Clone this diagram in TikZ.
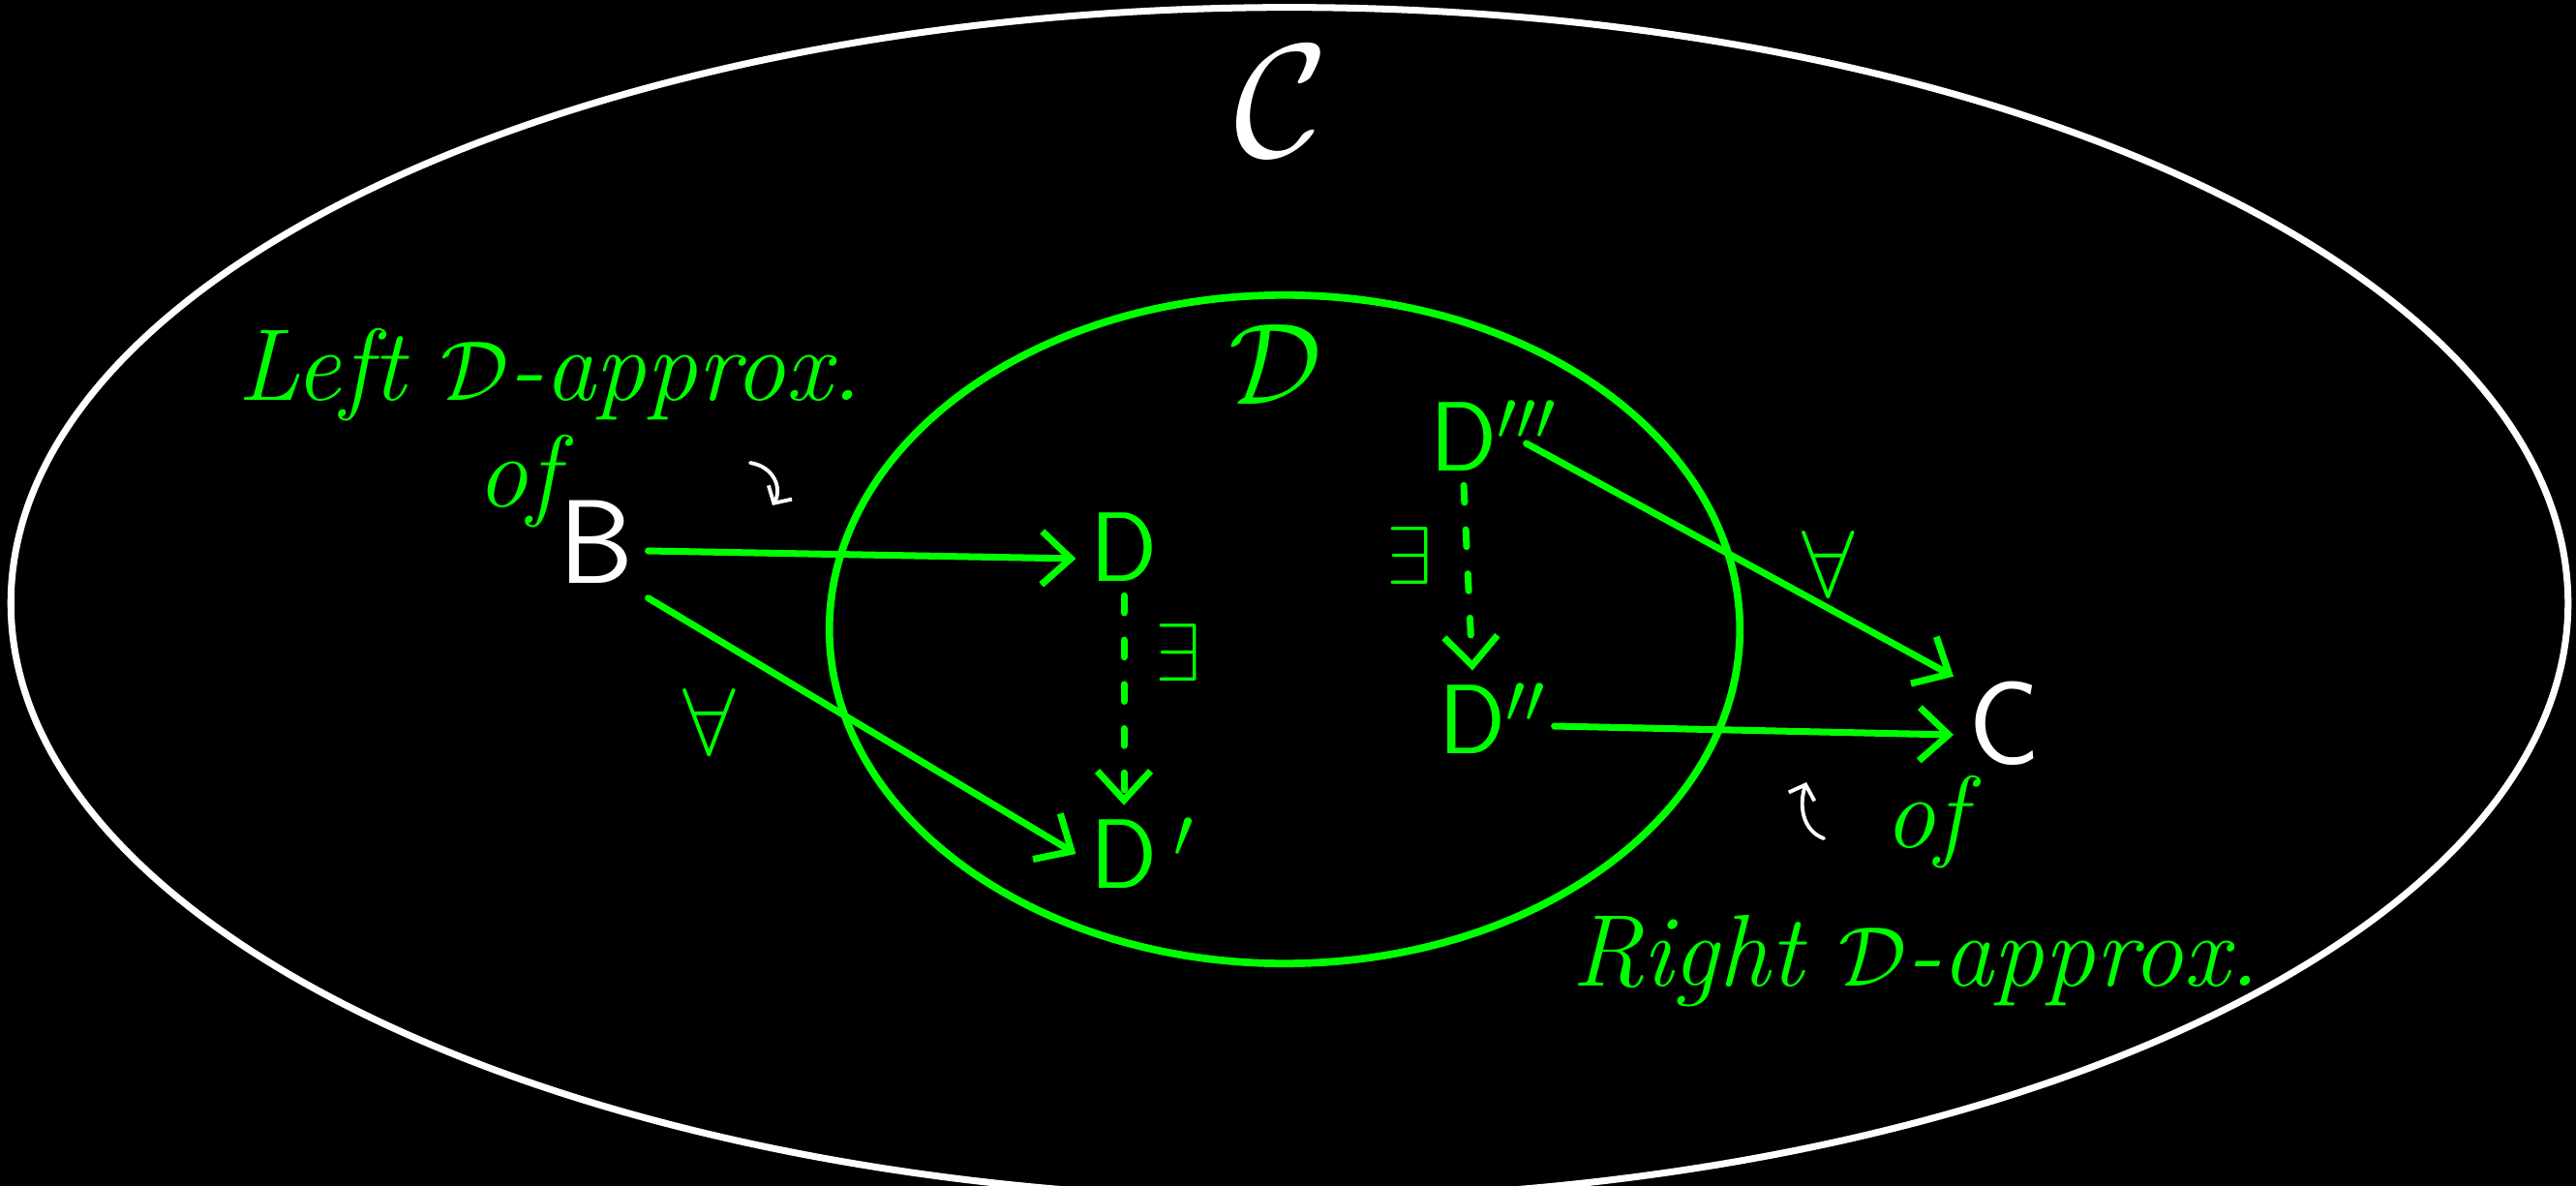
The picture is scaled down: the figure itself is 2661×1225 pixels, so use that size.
\documentclass[tikz,border=0pt]{standalone}
\usepackage{fontspec}
\usetikzlibrary{arrows.meta}
\definecolor{chalkgreen}{RGB}{0,255,0}
\begin{document}
\begin{tikzpicture}[x=0.01cm,y=-0.01cm,
  every node/.style={inner sep=0pt},
  phrase/.style={text=chalkgreen, font=\fontsize{30}{36}\selectfont\itshape},
  letterg/.style={text=chalkgreen, font=\fontsize{29}{34}\selectfont\sffamily, outer sep=0.15cm},
  letterw/.style={text=white, font=\fontsize{35}{40}\selectfont\sffamily, outer sep=0.15cm},
  forall/.style={text=chalkgreen, font=\Huge, scale=1.12},
  exist/.style={text=chalkgreen, font=\Huge, scale=0.97},
  conn/.style={draw=chalkgreen, line width=2pt, line cap=round,
    -{Straight Barb[length=0.3cm,width=0.55cm,line width=2pt]}},
  exists/.style={conn, dash pattern=on 5pt off 8pt},
  hint/.style={draw=white, line width=1.1pt, line cap=round,
    -{Straight Barb[length=0.13cm,width=0.28cm,line width=1.1pt]}}
]
\fill[black] (0,0) rectangle (2661,1225);
\clip (0,0) rectangle (2661,1225);
% ellipses
\draw[white, line width=2pt] (1332,623) ellipse [x radius=13.2cm, y radius=6.15cm];
\draw[chalkgreen, line width=2.2pt] (1327,650) ellipse [x radius=4.7cm, y radius=3.45cm];
% titles
\node[text=white, font=\Huge, scale=1.9] (calC) at (1324,105) {$\mathcal{C}$};
\node[text=chalkgreen, font=\Huge, scale=1.37] (calD) at (1317,377) {$\mathcal{D}$};
% objects
\node[letterw] (B) at (616,560) {B};
\node[letterw] (C) at (2070,747) {C};
\node[letterg] (D) at (1161,565) {D};
\node[letterg] (D1) at (1161,882) {D\rlap{\smash{\,$'$}}};
\node[letterg] (D3) at (1512,451) {D\rlap{\smash{$'''$}}};
\node[letterg] (D2) at (1521,743) {D\rlap{\smash{$''$}}};
% quantifiers
\node[forall] (allL) at (733,745) {$\forall$};
\node[forall] (allR) at (1889,582) {$\forall$};
\node[exist] (exL) at (1217,674) {$\exists$};
\node[exist] (exR) at (1456,574) {$\exists$};
% phrases
\node[phrase] (leftap) at (568,387) {Left $\mathcal{D}$-approx.};
\node[phrase] (ofL) at (535,497) {of};
\node[phrase] (rightap) at (1979,993) {Right $\mathcal{D}$-approx.};
\node[phrase] (ofR) at (1989,849) {of};
% connectors
\draw[conn] ([yshift=-0.09cm]B.east) -- ([yshift=-0.12cm]D.west);
\draw[conn] (B.south east) -- (D1.west);
\draw[exists] (D.south) -- (D1.north);
\draw[exists] (D3.south) -- (D2.north);
\draw[conn] ([xshift=0.15cm,yshift=-0.07cm]D3.east) -- ([yshift=-0.1cm]C.north west);
\draw[conn] ([xshift=0.35cm,yshift=-0.07cm]D2.east) -- ([yshift=-0.12cm]C.west);
% small pointers
\coordinate (p1s) at (775,478);
\coordinate (p1e) at (798,522);
\draw[hint] (p1s) .. controls (800,482) and (808,505) .. (p1e);
\coordinate (p2s) at (1884,866);
\coordinate (p2e) at (1866,808);
\draw[hint] (p2s) .. controls (1862,858) and (1858,832) .. (p2e);
\end{tikzpicture}
\end{document}
